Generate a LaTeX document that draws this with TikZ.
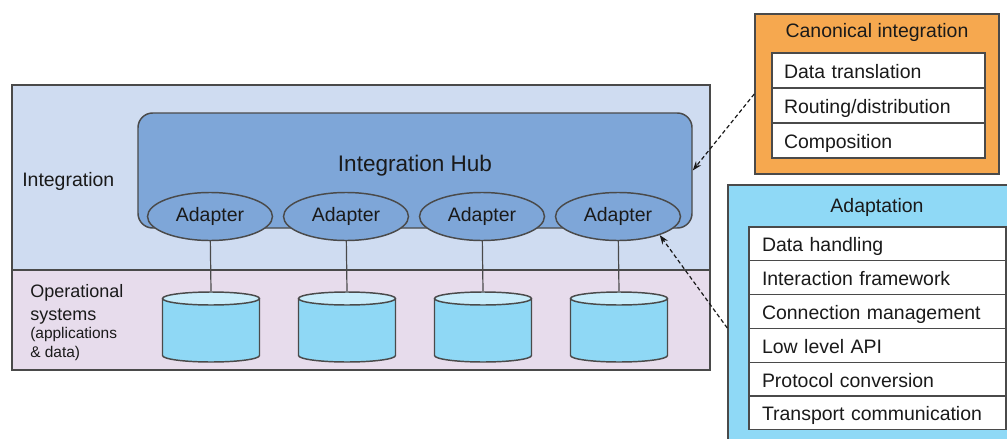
\documentclass[tikz,border=0pt]{standalone}
\usepackage{fontspec}
\setmainfont{Liberation Sans}
\usetikzlibrary{shapes.geometric,arrows.meta,calc}
\definecolor{intbg}{HTML}{CFDCF1}
\definecolor{opbg}{HTML}{E7DCEC}
\definecolor{hubblue}{HTML}{7EA6D8}
\definecolor{cylbody}{HTML}{8FD8F5}
\definecolor{cyltop}{HTML}{C8ECFA}
\definecolor{canonorange}{HTML}{F6A84F}
\definecolor{adaptblue}{HTML}{8FD9F6}
\definecolor{edge}{HTML}{4A4A4A}
\definecolor{ink}{HTML}{1A1A1A}
\tikzset{
  edgeline/.style={draw=edge, line width=1.1pt},
  thinline/.style={draw=edge, line width=0.8pt},
  txt/.style={font=\fontsize{14.6}{17}\selectfont, text=ink, inner sep=0pt},
  hubtxt/.style={font=\fontsize{16.9}{20}\selectfont, text=ink, inner sep=0pt},
  optxt/.style={font=\fontsize{13.5}{17.25}\selectfont, text=ink, inner sep=0pt, align=left},
  smalltxt/.style={font=\fontsize{11.6}{14.25}\selectfont, text=ink, inner sep=0pt, align=left},
  hubbox/.style={edgeline, fill=hubblue, rounded corners=11pt, minimum width=554*0.75pt, minimum height=115*0.75pt, inner sep=0pt},
  adapterell/.style={ellipse, edgeline, fill=hubblue, minimum width=125*0.75pt, minimum height=48*0.75pt, inner sep=0pt, font=\fontsize{14.6}{17}\selectfont, text=ink},
  canonbox/.style={edgeline, fill=canonorange, minimum width=244*0.75pt, minimum height=160*0.75pt, inner sep=0pt},
  adaptbox/.style={edgeline, fill=adaptblue, minimum width=290*0.75pt, minimum height=262*0.75pt, inner sep=0pt},
  crow/.style={thinline, fill=white, outer sep=0pt, minimum height=35*0.75pt, text height=12.5pt, text depth=0.5pt, text width=189*0.75pt, inner xsep=12*0.75pt, inner ysep=0pt, align=left, font=\fontsize{14.6}{17}\selectfont, text=ink},
  arow/.style={thinline, fill=white, outer sep=0pt, minimum height=33.8*0.75pt, text height=12.5pt, text depth=0.5pt, text width=231*0.75pt, inner xsep=13*0.75pt, inner ysep=0pt, align=left, font=\fontsize{14.6}{17}\selectfont, text=ink},
  dasharrow/.style={draw=ink, line width=0.9pt, dash pattern=on 3pt off 2pt, -{Stealth[length=7pt,width=5pt]}},
  link/.style={draw=edge, line width=0.9pt}
}
\begin{document}
\begin{tikzpicture}[x=0.75pt,y=-0.75pt]
\useasboundingbox (0,0) rectangle (1007,439);
\begin{scope}
\clip (0,0) rectangle (1007,439);
% layer backgrounds
\fill[intbg] (12,85) rectangle (710,270);
\fill[opbg] (12,270) rectangle (710,370);
\draw[edgeline] (12,85) rectangle (710,370);
\draw[edgeline] (12,270) -- (710,270);

\node[txt, anchor=west] (lint) at (22,181) {Integration};
\node[optxt, anchor=north west] (lop) at (30,284) {Operational\\systems};
\node[smalltxt, anchor=north west] (lapp) at (30,327) {(applications\\\& data)};

% hub
\node[hubbox] (hub) at (415,170.5) {};
\node[hubtxt] (hubt) at (415,166) {Integration Hub};

% adapters
\foreach \n/\x in {1/210,2/346,3/482,4/618}{
  \node[adapterell] (a\n) at (\x,216.5) {Adapter};
  \coordinate (cyl\n) at (\x+1,291);
  \draw[link] (a\n) -- (cyl\n);
  \fill[cylbody] (\x+1-48.5,298.5) -- (\x+1-48.5,355.5)
     arc[start angle=180,end angle=0,x radius=48.5,y radius=6.5] -- (\x+1+48.5,298.5) -- cycle;
  \draw[edgeline] (\x+1-48.5,298.5) -- (\x+1-48.5,355.5)
     arc[start angle=180,end angle=0,x radius=48.5,y radius=6.5] -- (\x+1+48.5,298.5);
  \draw[edgeline, fill=cyltop] (\x+1,298.5) ellipse[x radius=48.5, y radius=6.5];
}

% canonical integration box
\node[canonbox] (canon) at (877,94) {};
\node[txt] (canont) at (877,32) {Canonical integration};
\node[crow, anchor=north west] (c1) at (772,53) {Data translation};
\node[crow, anchor=north] (c2) at (c1.south) {Routing/distribution};
\node[crow, anchor=north] (c3) at (c2.south) {Composition};

% adaptation box
\node[adaptbox] (adapt) at (873,316) {};
\node[txt] (adaptt) at (877,207) {Adaptation};
\node[arow, anchor=north west] (r1) at (749,227) {Data handling};
\node[arow, anchor=north] (r2) at (r1.south) {Interaction framework};
\node[arow, anchor=north] (r3) at (r2.south) {Connection management};
\node[arow, anchor=north] (r4) at (r3.south) {Low level API};
\node[arow, anchor=north] (r5) at (r4.south) {Protocol conversion};
\node[arow, anchor=north] (r6) at (r5.south) {Transport communication};
\end{scope}

% dashed connectors
\draw[dasharrow] (canon.west) -- (hub.east);
\coordinate (adaptfrom) at ($(adapt.west)+(0,12)$);
\draw[dasharrow] (adaptfrom) -- (a4.-24);
\end{tikzpicture}
\end{document}
